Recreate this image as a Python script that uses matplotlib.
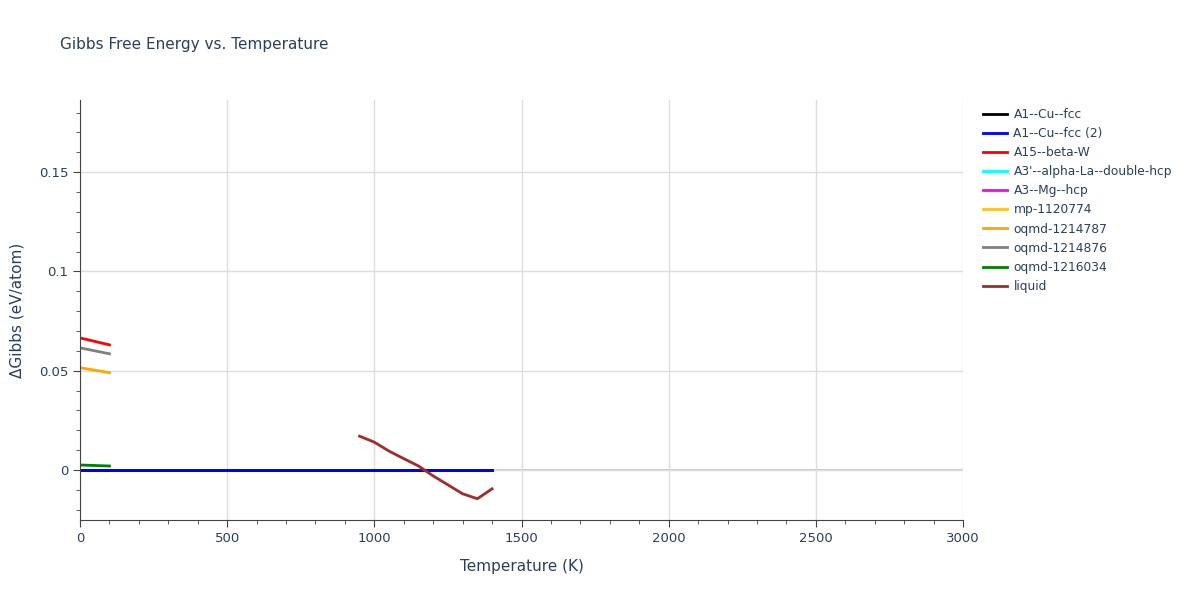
import matplotlib
matplotlib.use("Agg")
import matplotlib.pyplot as plt
import numpy as np

names = ["A1--Cu--fcc", "A1--Cu--fcc (2)", "A15--beta-W", "A3'--alpha-La--double-hcp",
         "A3--Mg--hcp", "mp-1120774", "oqmd-1214787", "oqmd-1214876", "oqmd-1216034", "liquid"]
colors = ["black", "blue", "red", "cyan", "magenta", "#FFC020", "orange", "gray", "green", "brown"]

t_solid = [0, 1400]
g_zero = [0.0, 0.0]
t_low = [0, 100]
g_betaW = [0.0665, 0.063]
g_1214787 = [0.0515, 0.049]
g_1214876 = [0.0615, 0.0585]
g_1216034 = [0.0025, 0.002]
t_liq = [950, 1000, 1050, 1100, 1150, 1200, 1250, 1300, 1350, 1400]
g_liq = [0.017, 0.014, 0.0095, 0.0057, 0.002, -0.003, -0.0075, -0.012, -0.0145, -0.0095]

series = [
    (t_solid, g_zero), (t_solid, g_zero), (t_low, g_betaW), (None, None), (None, None),
    (None, None), (t_low, g_1214787), (t_low, g_1214876), (t_low, g_1216034), (t_liq, g_liq)]

fig = plt.figure(figsize=(12, 6), dpi=100)
ax = fig.add_axes([80/1200, 80/600, 883/1200, 420/600])
for n, c, (x, y) in zip(names, colors, series):
    if x is None:
        ax.plot([], [], color=c, lw=2, label=n)
    else:
        ax.plot(x, y, color=c, lw=2, label=n)
ax.axhline(0, color="#cccccc", lw=1.5, zorder=0)
ax.set_xlim(0, 3000)
ax.set_ylim(-0.0252, 0.1863)
ax.set_xticks([0, 500, 1000, 1500, 2000, 2500, 3000])
ax.set_xticklabels(["0", "500", "1000", "1500", "2000", "2500", "3000"])
ax.set_yticks([0, 0.05, 0.1, 0.15])
ax.set_yticklabels(["0", "0.05", "0.1", "0.15"])
ax.set_xticks(np.arange(0, 3001, 100), minor=True)
ax.set_yticks(np.arange(-0.02, 0.19, 0.01), minor=True)
ax.grid(True, which="major", color="#dddddd", lw=1)
for s in ["top", "right"]:
    ax.spines[s].set_visible(False)
for s in ["left", "bottom"]:
    ax.spines[s].set_color("#444444")
ax.tick_params(colors="#444444", labelcolor="#2a3f5f", labelsize=9.5, length=5)
ax.tick_params(which="minor", length=3, colors="#444444")
ax.set_xlabel("Temperature (K)", color="#2a3f5f", fontsize=11, labelpad=10)
ax.set_ylabel("ΔGibbs (eV/atom)", color="#2a3f5f", fontsize=11, labelpad=10)
fig.text(60/1200, 1-45/600, "Gibbs Free Energy vs. Temperature", color="#2a3f5f", fontsize=11, va="center")
leg = fig.legend(loc="upper left", bbox_to_anchor=(978/1200, 1-103/600), frameon=False, fontsize=8.8,
                 handlelength=2.0, handletextpad=0.5, labelspacing=0.5, borderaxespad=0)
for t in leg.get_texts():
    t.set_color("#2a3f5f")
fig.savefig("out.png")
